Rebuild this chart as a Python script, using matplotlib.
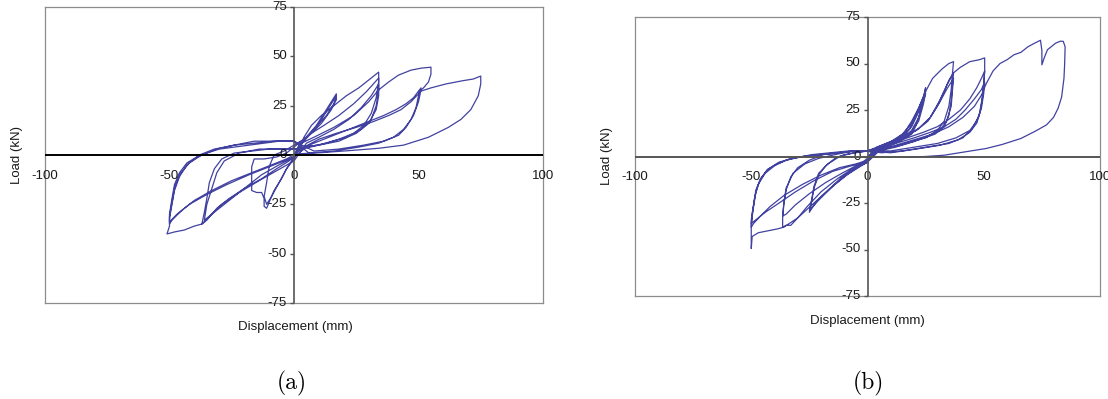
import matplotlib
matplotlib.use("Agg")
import matplotlib.pyplot as plt
from matplotlib.markers import TICKLEFT

plt.rcParams["font.family"] = ["Liberation Sans", "DejaVu Sans"]

x_ticks = [-100, -50, 0, 50, 100]
y_ticks = [-75, -50, -25, 0, 25, 50, 75]
x_label = "Displacement (mm)"
y_label = "Load (kN)"
captions = ["(a)", "(b)"]

# (a) load history, (displacement mm, load kN)
a_small = [(0, 0), (2, 5), (5, 9), (9, 15), (13, 23), (16, 29), (17, 31), (17, 28), (15, 23), (11, 16),
           (7, 11), (3, 7), (0, 4), (-3, 1), (-7, -1), (-12, -2), (-16, -2), (-17, -6), (-17, -12),
           (-17, -18), (-15, -19), (-13, -19), (-12, -22), (-12, -26), (-11, -27), (-10, -24), (-8, -18),
           (-5, -12), (-3, -7), (-1, -3), (0, -1), (2, 4), (6, 10), (10, 16), (14, 24), (17, 30),
           (16, 26), (13, 20), (8, 13), (4, 8), (0, 5), (-4, 2), (-8, 0), (-10, -6), (-11, -14),
           (-12, -21), (-11, -25), (-9, -21), (-6, -14), (-3, -7), (0, -2)]
a_cyc35 = [(2, 3), (4, 9), (7, 15), (11, 20), (16, 25), (21, 30), (26, 34), (30, 38), (34, 42), (34, 37),
           (33, 29), (31, 21), (28, 15), (24, 11), (18, 8), (10, 5), (3, 3), (0, 3),
           (-4, 3), (-10, 3), (-17, 2), (-24, 1), (-29, -2), (-32, -7), (-34, -14), (-35, -22), (-36, -29),
           (-37, -35), (-35, -33), (-31, -27), (-26, -22), (-20, -17), (-13, -12), (-7, -7), (-2, -3), (0, -1),
           (3, 6), (7, 11), (12, 15), (18, 20), (24, 26), (29, 32), (34, 39), (34, 33), (33, 25), (31, 18),
           (27, 13), (21, 9), (13, 6), (5, 4), (0, 3),
           (-6, 3), (-14, 3), (-22, 1), (-28, -3), (-31, -9), (-33, -17), (-35, -25), (-36, -33), (-34, -31),
           (-29, -25), (-22, -19), (-14, -13), (-7, -8), (0, -3),
           (5, 6), (10, 9), (16, 13), (22, 18), (27, 24), (31, 30), (34, 36), (34, 30), (33, 23), (30, 16),
           (25, 11), (18, 7), (10, 5), (3, 4), (0, 7)]
a_cyc50 = [(-6, 7), (-12, 6), (-18, 5), (-24, 4), (-30, 3), (-35, 1), (-39, -1), (-43, -4), (-46, -9),
           (-48, -15), (-49, -22), (-50, -30), (-50, -36), (-51, -40), (-48, -39), (-44, -38), (-40, -36),
           (-37, -35), (-33, -30), (-27, -24), (-20, -17), (-13, -10), (-6, -5), (0, -1),
           (6, 5), (12, 8), (18, 11), (24, 14), (30, 17), (36, 20), (41, 23), (45, 26), (48, 29), (51, 34),
           (50, 30), (49, 24), (47, 18), (44, 13), (40, 9), (34, 6), (26, 4), (16, 2), (6, 1), (0, 7),
           (-8, 7), (-16, 6), (-24, 5), (-31, 3), (-37, 0), (-42, -4), (-46, -10), (-48, -17), (-49, -24),
           (-50, -31), (-50, -35), (-49, -33), (-45, -28), (-40, -23), (-33, -18), (-25, -13), (-17, -9),
           (-9, -5), (-3, -2), (0, 0),
           (4, 4), (10, 8), (17, 11), (25, 14), (32, 17), (38, 20), (43, 23), (47, 27), (50, 31), (51, 33),
           (50, 27), (48, 20), (45, 14), (42, 10), (36, 7), (28, 5), (18, 3), (8, 2), (0, 7),
           (-8, 7), (-16, 7), (-24, 5), (-32, 3), (-38, 0), (-43, -5), (-46, -11), (-48, -18), (-49, -25),
           (-50, -32), (-50, -34), (-47, -30), (-42, -25), (-35, -20), (-27, -15), (-18, -10), (-10, -6),
           (-4, -3), (0, -1)]
a_final = [(3, 6), (8, 9), (16, 14), (24, 20), (30, 27), (34, 33), (38, 37), (42, 40.5), (47, 43), (51, 44),
           (55, 44.5), (55, 41), (54, 37), (52, 34), (50, 32), (55, 34), (61, 36), (68, 37.7), (72, 38.5),
           (75, 40), (75, 36), (74, 30), (71, 23), (67, 18), (62, 14), (54, 9), (44, 5), (34, 3.4),
           (22, 2.2), (11, 1.2), (0, 0.5)]

# (b) load history
b_small = [(0, 0), (3, 3), (6, 5), (3, 2), (0, -2), (-3, -4), (0, -1), (2, 2), (0, 3)]
b_cyc25 = [(4, 4), (8, 6), (12, 9), (16, 13), (19, 19), (22, 26), (24, 32), (25, 37), (24.5, 33), (23, 25),
           (21, 17), (19, 12), (15, 9), (10, 6), (5, 4), (0, 3),
           (-5, 2), (-10, 1), (-14, -1), (-18, -5), (-21, -10), (-23, -17), (-24, -24), (-25, -30), (-24, -28),
           (-21, -23), (-16, -17), (-11, -11), (-6, -7), (-2, -4), (0, -3),
           (4, 4), (9, 7), (14, 10), (18, 15), (21, 22), (23, 28), (25, 35), (24, 30), (22, 21), (19, 14),
           (14, 9), (8, 6), (3, 4), (0, 3),
           (-6, 2), (-12, 0), (-17, -4), (-21, -9), (-23, -16), (-24, -23), (-25, -29), (-23, -26), (-19, -21),
           (-14, -15), (-8, -9), (-3, -5), (0, -3),
           (5, 5), (10, 7), (15, 10), (19, 16), (22, 24), (24, 30), (25, 34), (24, 28), (22, 19), (18, 12),
           (12, 8), (6, 5), (0, 3)]
b_cyc37 = [(5, 5), (10, 8), (15, 12), (19, 18), (22, 26), (25, 35), (28, 42), (32, 47), (35, 50), (37, 51),
           (36.5, 44), (36, 36), (35, 27), (33, 19), (30, 14), (26, 11), (20, 8), (12, 5), (5, 3), (0, 3),
           (-5, 3), (-12, 2), (-19, 1), (-25, -2), (-30, -6), (-33, -11), (-35, -18), (-36, -26), (-36.5, -33),
           (-36.5, -38), (-35, -37), (-33, -37), (-30, -33), (-26, -27), (-20, -19), (-13, -12), (-7, -7),
           (-2, -4), (0, -3),
           (4, 5), (10, 8), (16, 11), (21, 14), (26, 19), (30, 27), (33, 35), (35, 41), (37, 45), (36.5, 38),
           (36, 30), (35, 22), (33, 16), (29, 12), (22, 9), (14, 6), (6, 4), (0, 3),
           (-6, 3), (-14, 1), (-21, -1), (-27, -4), (-32, -9), (-35, -17), (-36, -25), (-36.5, -32), (-35, -31),
           (-31, -26), (-25, -20), (-18, -14), (-11, -9), (-5, -5), (0, -3),
           (5, 5), (11, 8), (17, 11), (22, 15), (27, 21), (31, 29), (34, 36), (37, 42), (36.5, 35), (36, 27),
           (34, 19), (31, 14), (25, 10), (16, 7), (7, 4), (0, 3)]
b_cyc50 = [(8, 7), (16, 11), (22, 15), (27, 21), (31, 30), (34, 38), (37, 45), (40, 48), (44, 51), (48, 52),
           (50.4, 53), (50.4, 46), (50, 38), (49, 29), (48, 22), (45, 15), (41, 10), (35, 7), (25, 5),
           (15, 3), (6, 2), (0, 3),
           (-5, 3), (-12, 2), (-20, 1), (-27, 0), (-33, -1), (-39, -4), (-43, -7), (-46, -12), (-48, -18),
           (-49, -26), (-50, -34), (-50, -40), (-50, -46), (-50, -49.5), (-49.6, -43), (-47, -41), (-43, -40),
           (-39, -39), (-36, -38), (-30, -33), (-23, -25), (-16, -17), (-9, -10), (-4, -6), (0, -3),
           (4, 4), (10, 7), (17, 10), (24, 13), (30, 16), (35, 20), (40, 25), (44, 31), (47, 37), (49, 42),
           (50.4, 46), (50, 40), (49.5, 32), (48.5, 24), (47, 18), (44, 13), (39, 9), (31, 6), (21, 4),
           (10, 2), (0, 3),
           (-6, 3), (-13, 2), (-21, 1), (-28, 0), (-35, -2), (-40, -5), (-44, -9), (-47, -15), (-48.5, -22),
           (-49.5, -30), (-50, -38), (-49, -36), (-46, -32), (-42, -27), (-36, -21), (-28, -15), (-20, -10),
           (-12, -6), (-5, -4), (0, -2),
           (5, 4), (12, 7), (20, 10), (27, 13), (33, 16), (38, 20), (42, 25), (46, 31), (49, 36), (50.4, 40),
           (50, 34), (49, 26), (47, 19), (44, 14), (38, 10), (30, 7), (20, 5), (10, 3), (0, 3),
           (-8, 3), (-16, 2), (-24, 1), (-32, -1), (-38, -3), (-43, -7), (-46, -12), (-48, -19), (-49, -27),
           (-50, -36), (-48, -34), (-44, -30), (-38, -25), (-31, -19), (-23, -13), (-15, -8), (-7, -5), (0, -3)]
b_final = [(5, 3), (12, 6), (20, 9), (28, 12), (35, 16), (41, 21), (46, 27), (49, 33), (51, 39), (54, 46),
           (57, 50), (60, 52), (63, 54.7), (66, 56), (69, 59), (72, 61), (74.4, 62.5), (75, 57), (75, 49.3),
           (76, 53), (77.4, 57.4), (79, 59), (81, 61), (83, 62), (84.2, 61.9), (85, 59), (84.8, 50),
           (84.5, 42), (83.5, 32), (82, 26), (80, 21), (77, 17), (72, 13.5), (66, 9.7), (58, 6.5),
           (51, 4.3), (42, 2.5), (33, 0.7), (25, 0), (18, -0.3)]

LINE = "#12128a"
TEXT = "#1a1a1a"
W, H = 1108, 399


def draw_panel(ax, runs, hline_color):
    ax.set_xlim(-100, 100)
    ax.set_ylim(-75, 75)
    ax.set_xticks([])
    ax.set_yticks([])
    for s in ax.spines.values():
        s.set_color("#8c8c8c")
        s.set_linewidth(0.9)
    pts = [p for run in runs for p in run]
    xs, ys = zip(*pts)
    ax.plot(xs, ys, color=LINE, lw=0.9, alpha=0.8)
    ax.axhline(0, color=hline_color, lw=1.4, zorder=5)
    ax.axvline(0, color="#555555", lw=1.2, zorder=5)
    for yt in y_ticks:
        ax.plot([0], [yt], marker=TICKLEFT, ms=3, color="#555555", clip_on=False, zorder=5)
        ax.annotate(str(yt), (0, yt), xytext=(-5, 0), textcoords="offset points",
                    ha="right", va="center", fontsize=9.5, color=TEXT, annotation_clip=False)
    for xt in x_ticks:
        ax.annotate(str(xt), (xt, 0), xytext=(0, -15), textcoords="offset points",
                    ha="center", va="center", fontsize=9.5, color=TEXT, annotation_clip=False)


fig = plt.figure(figsize=(W / 100, H / 100), dpi=100)
ax_a = fig.add_axes([45 / W, 1 - 303 / H, 498 / W, 296 / H])
ax_b = fig.add_axes([635 / W, 1 - 296 / H, 465 / W, 279 / H])

draw_panel(ax_a, [a_small, a_cyc35, a_cyc50, a_final], "black")
draw_panel(ax_b, [b_small, b_cyc25, b_cyc37, b_cyc50, b_final], "#555555")

fig.text(17 / W, 1 - 155 / H, y_label, rotation=90, ha="center", va="center", fontsize=9.5, color=TEXT)
fig.text(607 / W, 1 - 156 / H, y_label, rotation=90, ha="center", va="center", fontsize=9.5, color=TEXT)
fig.text(295 / W, 1 - 327 / H, x_label, ha="center", va="center", fontsize=9.5, color=TEXT)
fig.text(867 / W, 1 - 321 / H, x_label, ha="center", va="center", fontsize=9.5, color=TEXT)
fig.text(292 / W, 1 - 383 / H, captions[0], ha="center", va="center", fontsize=17, family="cmr10")
fig.text(868 / W, 1 - 383 / H, captions[1], ha="center", va="center", fontsize=17, family="cmr10")

fig.savefig("out.png", dpi=100)
